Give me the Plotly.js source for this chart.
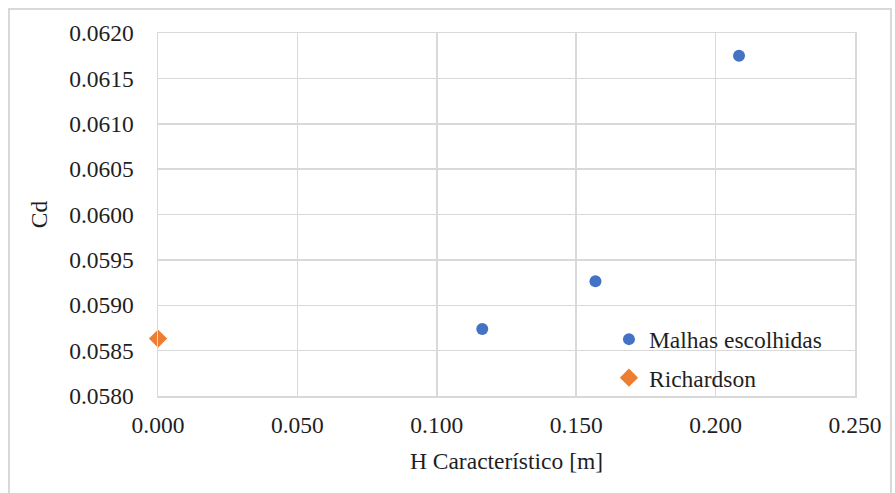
<!DOCTYPE html>
<html>
<head>
<meta charset="utf-8">
<script src="https://cdn.plot.ly/plotly-3.0.1.min.js"></script>
<style>
body{margin:0;padding:0;background:#fff;}
#frame{position:absolute;left:8px;top:8px;width:884px;height:490px;border:2px solid #d9d9d9;box-sizing:border-box;pointer-events:none;z-index:5;}
#chart{width:895px;height:493px;}
</style>
</head>
<body>
<div id="frame"></div>
<div id="chart"></div>
<script>
const malhasX = [0.1163, 0.1569, 0.2084];
const malhasY = [0.058739, 0.059265, 0.06175];
const richX = [0.0];
const richY = [0.058633];
const xTicks = [0, 0.05, 0.1, 0.15, 0.2, 0.25];
const xTickText = ['0.000','0.050','0.100','0.150','0.200','0.250'];
const yTicks = [0.058,0.0585,0.059,0.0595,0.06,0.0605,0.061,0.0615,0.062];
const yTickText = ['0.0580','0.0585','0.0590','0.0595','0.0600','0.0605','0.0610','0.0615','0.0620'];

const font = {family:'Liberation Serif, Times New Roman, serif', size:23.5, color:'#1f1f1f'};

const traces = [
  {x: malhasX, y: malhasY, mode:'markers', type:'scatter', name:'Malhas escolhidas', legendgroup:'a',
   marker:{color:'#4472C4', size:12, symbol:'circle'}, cliponaxis:false},
  {x: richX, y: richY, mode:'markers', type:'scatter', name:'Richardson', legendgroup:'b',
   marker:{color:'#ED7D31', size:14, symbol:'diamond'}, cliponaxis:false}
];

const layout = {
  width:895, height:493,
  margin:{l:158, r:40, t:33, b:97},
  paper_bgcolor:'#fff', plot_bgcolor:'#fff',
  font: font,
  showlegend:true,
  legend:{x:0.647, y:-0.012, xanchor:'left', yanchor:'bottom', bgcolor:'rgba(0,0,0,0)',
          font:font, traceorder:'grouped', tracegroupgap:5, itemwidth:30},
  xaxis:{range:[0,0.25], tickvals:xTicks, ticktext:xTickText, showgrid:true, gridcolor:'#d9d9d9', gridwidth:1.5,
         showline:true, linecolor:'#d9d9d9', linewidth:1.5, mirror:true, zeroline:false, ticks:'', ticklen:0,
         ticklabelstandoff:7,
         title:{text:'H Característico [m]', font:font, standoff:16}, tickfont:font},
  yaxis:{range:[0.058,0.062], tickvals:yTicks, ticktext:yTickText, showgrid:true, gridcolor:'#d9d9d9', gridwidth:1.5,
         showline:true, linecolor:'#d9d9d9', linewidth:1.5, mirror:true, zeroline:false, ticks:'', ticklen:0,
         ticklabelstandoff:18,
         title:{text:'Cd', font:font, standoff:15}, tickfont:font}
};

Plotly.newPlot('chart', traces, layout, {displayModeBar:false, staticPlot:true});
</script>
</body>
</html>
